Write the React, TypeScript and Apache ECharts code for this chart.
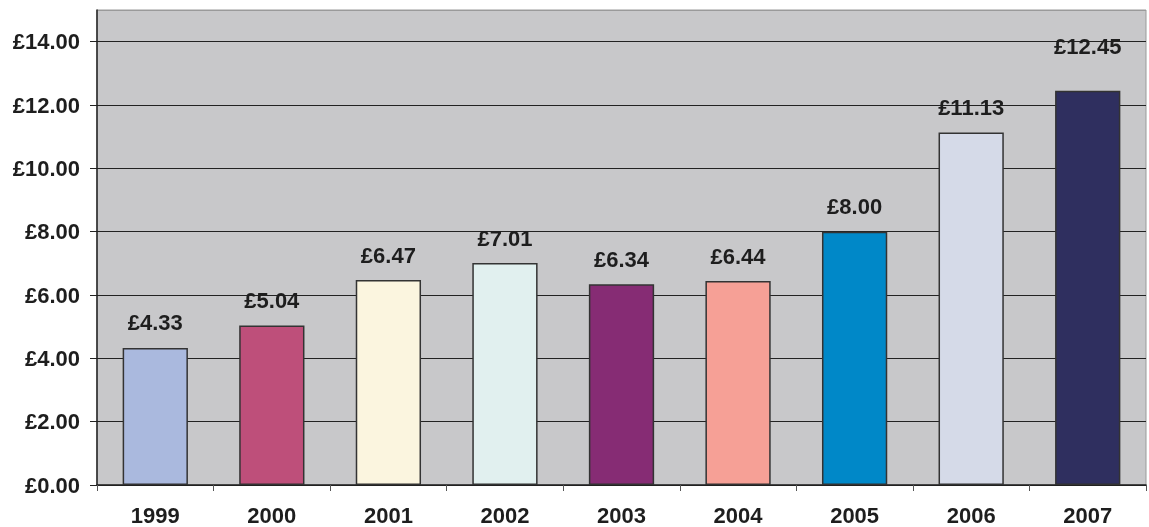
import React, { useEffect, useRef } from "react";
import * as echarts from "echarts";

const years = ["1999", "2000", "2001", "2002", "2003", "2004", "2005", "2006", "2007"];
const prices = [4.33, 5.04, 6.47, 7.01, 6.34, 6.44, 8.0, 11.13, 12.45];
const barColors = [
  "#AAB9DE",
  "#BE4F7A",
  "#FBF5DF",
  "#E1F0EF",
  "#862C74",
  "#F6A096",
  "#0088C8",
  "#D5DAE8",
  "#2F2F5F",
];

export default function App() {
  const ref = useRef<HTMLDivElement>(null);
  useEffect(() => {
    if (!ref.current) return;
    const chart = echarts.init(ref.current, undefined, { renderer: "svg" });
    const font = "'Liberation Sans', Arial, sans-serif";
    chart.setOption({
      animation: false,
      grid: {
        left: 97,
        top: 10,
        right: 3,
        bottom: 42,
        show: true,
        backgroundColor: "#C8C8CA",
        borderColor: "#9A9A9A",
        borderWidth: 1,
      },
      xAxis: {
        type: "category",
        data: years,
        axisLine: { lineStyle: { color: "#222", width: 1.5 } },
        axisTick: { show: true, length: 6, lineStyle: { color: "#555" } },
        axisLabel: {
          margin: 19,
          color: "#1E1E1E",
          fontSize: 22,
          fontWeight: "bold",
          fontFamily: font,
        },
      },
      yAxis: {
        type: "value",
        min: 0,
        max: 15,
        interval: 2,
        axisLine: { show: true, lineStyle: { color: "#222", width: 1.5 } },
        axisTick: { show: true, length: 7, lineStyle: { color: "#222" } },
        axisLabel: {
          showMaxLabel: false,
          margin: 17,
          color: "#1E1E1E",
          fontSize: 22,
          fontWeight: "bold",
          fontFamily: font,
          formatter: (v: number) => "£" + v.toFixed(2),
        },
        splitLine: {
          show: true,
          lineStyle: {
            color: ["#222", "#222", "#222", "#222", "#222", "#222", "#222", "#222", "#9A9A9A"],
            width: 1,
          },
        },
      },
      series: [
        {
          type: "bar",
          barWidth: "56%",
          data: prices.map((v, i) => ({
            value: v,
            itemStyle: { color: barColors[i] },
            label: { distance: i === prices.length - 1 ? 33 : 14 },
          })),
          itemStyle: { borderColor: "#333", borderWidth: 1.5 },
          label: {
            show: true,
            position: "top",
            distance: 14,
            color: "#1E1E1E",
            fontSize: 22,
            fontWeight: "bold",
            fontFamily: font,
            formatter: (p: any) => "£" + Number(p.value).toFixed(2),
          },
        },
      ],
    });
    return () => chart.dispose();
  }, []);
  return (
    <div
      ref={ref}
      style={{ position: "fixed", left: 0, top: 0, width: 1149, height: 527 }}
    />
  );
}
